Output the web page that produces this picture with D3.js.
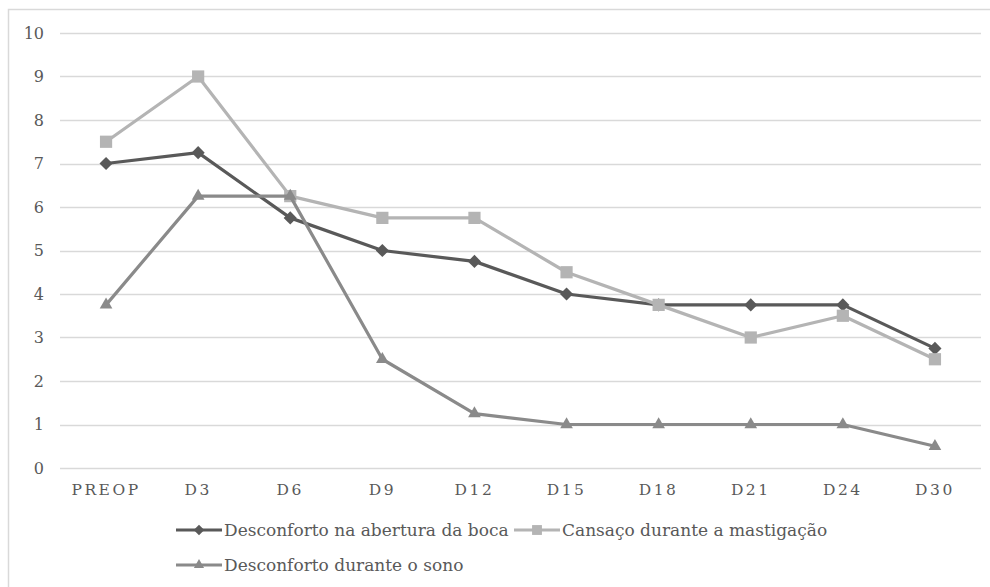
<!DOCTYPE html>
<html>
<head>
<meta charset="utf-8">
<script src="https://cdn.jsdelivr.net/npm/d3@7"></script>
<style>
  html, body { margin: 0; padding: 0; background: #fff; }
  text { font-family: "DejaVu Serif", "Liberation Serif", serif; }
</style>
</head>
<body>
<svg id="chart" width="990" height="587"></svg>
<script>
// Categories (time points) and the three symptom series
const categories = ["PREOP", "D3", "D6", "D9", "D12", "D15", "D18", "D21", "D24", "D30"];
const aberturaBoca = [7, 7.25, 5.75, 5, 4.75, 4, 3.75, 3.75, 3.75, 2.75];
const cansacoMastigacao = [7.5, 9, 6.25, 5.75, 5.75, 4.5, 3.75, 3, 3.5, 2.5];
const desconfortoSono = [3.75, 6.25, 6.25, 2.5, 1.25, 1, 1, 1, 1, 0.5];
const yTicks = [0, 1, 2, 3, 4, 5, 6, 7, 8, 9, 10];
const seriesNames = ["Desconforto na abertura da boca", "Cansaço durante a mastigação", "Desconforto durante o sono"];

const series = [
  { name: seriesNames[0], values: aberturaBoca, color: "#595959", symbol: d3.symbolDiamond2, size: 110 },
  { name: seriesNames[1], values: cansacoMastigacao, color: "#b4b4b4", symbol: d3.symbolSquare2, size: 190 },
  { name: seriesNames[2], values: desconfortoSono, color: "#8a8a8a", symbol: d3.symbolTriangle2, size: 115 }
];

const svg = d3.select("#chart");

// chart frame
svg.append("path")
  .attr("d", "M8.5,587 V9.5 H990")
  .attr("fill", "none").attr("stroke", "#d9d9d9").attr("stroke-width", 1.5);

const x = d3.scaleBand().domain(categories).range([60, 981]);
const y = d3.scaleLinear().domain([0, 10]).range([468, 33]);

// horizontal gridlines
svg.append("g").selectAll("line").data(yTicks).join("line")
  .attr("x1", 60).attr("x2", 981)
  .attr("y1", d => Math.round(y(d)) + 0.5).attr("y2", d => Math.round(y(d)) + 0.5)
  .attr("stroke", "#d9d9d9").attr("stroke-width", 1.5);

// y axis labels
const yAxis = d3.axisLeft(y).tickValues(yTicks).tickSize(0).tickPadding(0);
const gy = svg.append("g").attr("transform", "translate(44,0)").call(yAxis);
gy.select(".domain").remove();
gy.selectAll("text").attr("font-size", 16).attr("fill", "#595959")
  .style("font-family", "'DejaVu Serif', serif");

// x axis labels
const xAxis = d3.axisBottom(x).tickSize(0).tickPadding(0);
const gx = svg.append("g").attr("transform", "translate(0,481)").call(xAxis);
gx.select(".domain").remove();
gx.selectAll("text").attr("font-size", 15.5).attr("fill", "#595959")
  .attr("letter-spacing", "2.5px").attr("dy", "0.9em")
  .style("font-family", "'DejaVu Serif', serif");

// series lines and markers
const line = d3.line().x((d, i) => x(categories[i]) + x.bandwidth() / 2).y(d => y(d));
series.forEach(s => {
  svg.append("path").datum(s.values)
    .attr("d", line).attr("fill", "none")
    .attr("stroke", s.color).attr("stroke-width", 3.2)
    .attr("stroke-linejoin", "round");
  svg.append("g").selectAll("path").data(s.values).join("path")
    .attr("transform", (d, i) => `translate(${x(categories[i]) + x.bandwidth() / 2},${y(d)})`)
    .attr("d", d3.symbol(s.symbol, s.size))
    .attr("fill", s.color);
});

// legend
const legendItems = [
  { s: series[0], x: 176, y: 530 },
  { s: series[1], x: 514, y: 530 },
  { s: series[2], x: 176, y: 565 }
];
const lg = svg.append("g");
legendItems.forEach(it => {
  const g = lg.append("g").attr("transform", `translate(${it.x},${it.y})`);
  g.append("line").attr("x1", 0).attr("x2", 46).attr("y1", 0).attr("y2", 0)
    .attr("stroke", it.s.color).attr("stroke-width", 3.2);
  g.append("path").attr("transform", "translate(23,0)")
    .attr("d", d3.symbol(it.s.symbol, it.s.size * 0.65)).attr("fill", it.s.color);
  g.append("text").attr("x", 48).attr("y", 0).attr("dy", "0.35em")
    .attr("font-size", 17).attr("fill", "#595959")
    .style("font-family", "'DejaVu Serif', serif")
    .text(it.s.name);
});
</script>
</body>
</html>
